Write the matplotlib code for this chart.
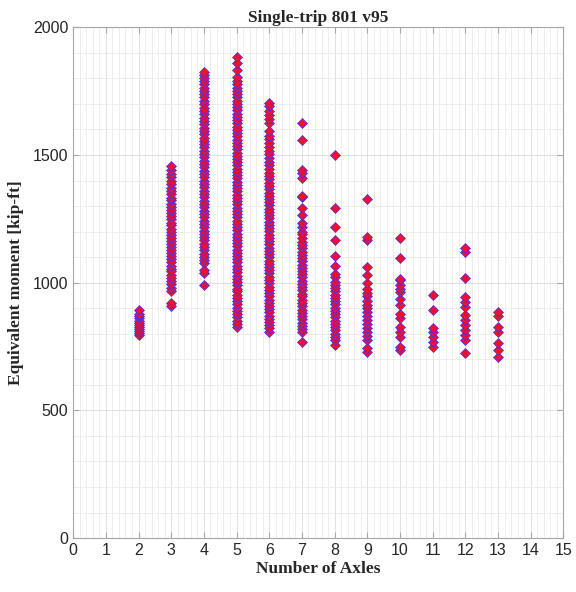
import matplotlib

matplotlib.use("Agg")

import matplotlib.pyplot as plt
from matplotlib.ticker import MultipleLocator

# Equivalent moment [kip-ft] per truck, grouped by number of axles
axles = [2, 3, 4, 5, 6, 7, 8, 9, 10, 11, 12, 13]

moment_2 = [795, 803, 811, 818, 826, 833, 842, 851, 860, 869, 879, 892]
moment_3 = [908, 919, 968, 981, 994, 1006, 1019, 1031, 1044, 1055, 1067, 1080, 1092, 1103,
            1115, 1128, 1139, 1151, 1163, 1176, 1187, 1199, 1212, 1224, 1235, 1248, 1260,
            1272, 1285, 1296, 1309, 1322, 1333, 1347, 1360, 1371, 1385, 1398, 1412, 1426,
            1440, 1455]
moment_4 = [990, 1036, 1050, 1076, 1088, 1101, 1114, 1127, 1139, 1152, 1166, 1178, 1191,
            1204, 1218, 1230, 1243, 1257, 1269, 1282, 1296, 1308, 1321, 1335, 1348, 1360,
            1373, 1387, 1400, 1412, 1425, 1439, 1452, 1464, 1477, 1491, 1503, 1516, 1530,
            1543, 1555, 1568, 1582, 1594, 1607, 1621, 1633, 1646, 1660, 1673, 1685, 1698,
            1712, 1725, 1737, 1750, 1764, 1777, 1789, 1802, 1814, 1825]
moment_5 = [826, 838, 851, 864, 876, 888, 901, 915, 927, 939, 952, 966, 977, 990, 1003,
            1016, 1028, 1040, 1053, 1067, 1079, 1091, 1104, 1118, 1129, 1142, 1155, 1168,
            1180, 1192, 1205, 1219, 1231, 1243, 1256, 1270, 1281, 1294, 1307, 1320, 1332,
            1344, 1357, 1371, 1383, 1395, 1408, 1422, 1433, 1446, 1459, 1472, 1484, 1496,
            1509, 1523, 1535, 1547, 1560, 1574, 1585, 1598, 1611, 1624, 1636, 1648, 1661,
            1675, 1687, 1699, 1712, 1726, 1737, 1750, 1763, 1778, 1790, 1805, 1833, 1860,
            1885]
moment_6 = [808, 821, 833, 847, 858, 871, 884, 897, 909, 921, 934, 948, 960, 972, 985, 999,
            1010, 1023, 1036, 1049, 1061, 1073, 1086, 1100, 1112, 1124, 1137, 1151, 1162,
            1175, 1188, 1201, 1213, 1225, 1238, 1252, 1264, 1276, 1289, 1303, 1314, 1327,
            1340, 1353, 1365, 1378, 1391, 1405, 1418, 1431, 1445, 1460, 1474, 1489, 1503,
            1517, 1532, 1546, 1561, 1576, 1595, 1625, 1640, 1655, 1672, 1690, 1705]
moment_7 = [767, 806, 818, 831, 844, 856, 868, 881, 895, 907, 919, 932, 946, 957, 970, 984,
            995, 1008, 1021, 1034, 1046, 1058, 1071, 1085, 1097, 1109, 1122, 1136, 1147,
            1160, 1173, 1190, 1198, 1218, 1232, 1265, 1292, 1335, 1339, 1408, 1428, 1440,
            1558, 1627]
moment_8 = [755, 775, 787, 800, 813, 825, 838, 850, 864, 876, 889, 901, 915, 927, 940, 952,
            966, 978, 990, 1004, 1023, 1033, 1065, 1105, 1166, 1219, 1293, 1499]
moment_9 = [730, 745, 775, 790, 806, 822, 837, 852, 868, 884, 899, 914, 930, 946, 961, 976,
            997, 1029, 1062, 1166, 1179, 1326]
moment_10 = [736, 749, 788, 807, 827, 860, 879, 912, 938, 964, 977, 990, 1010, 1016, 1097,
             1173]
moment_11 = [749, 768, 788, 807, 821, 892, 951]
moment_12 = [723, 775, 795, 814, 834, 853, 873, 903, 925, 942, 1019, 1121, 1134]
moment_13 = [710, 736, 762, 807, 827, 869, 886]

moments = [moment_2, moment_3, moment_4, moment_5, moment_6, moment_7, moment_8,
           moment_9, moment_10, moment_11, moment_12, moment_13]

x_ticks = list(range(0, 16))
y_ticks = [0, 500, 1000, 1500, 2000]

TEXT_GRAY = "#262626"
EDGE_GRAY = "#a6a6a6"

fig = plt.figure(figsize=(5.76, 5.92), dpi=100)
ax = fig.add_axes([0.127, 0.091, 0.851, 0.863])

for n, vals in zip(axles, moments):
    ax.plot([n] * len(vals), vals, linestyle="none", marker="D", markersize=4.8,
            markerfacecolor="#ee1034", markeredgecolor="#3a30f0", markeredgewidth=0.5)

ax.set_xlim(0, 15)
ax.set_ylim(0, 2000)
ax.set_xticks(x_ticks)
ax.set_yticks(y_ticks)
ax.xaxis.set_minor_locator(MultipleLocator(0.2))
ax.yaxis.set_minor_locator(MultipleLocator(100))

ax.grid(True, which="major", color="#dcdcdc", linewidth=0.6)
ax.grid(True, which="minor", color="#e8e8e8", linewidth=0.5)
ax.set_axisbelow(True)

ax.tick_params(which="major", direction="in", length=4, top=True, right=True,
               color=EDGE_GRAY, labelcolor=TEXT_GRAY, labelsize=11.5)
ax.tick_params(which="minor", length=0)
for lbl in ax.get_xticklabels() + ax.get_yticklabels():
    lbl.set_family("Liberation Sans")
for sp in ax.spines.values():
    sp.set_color(EDGE_GRAY)
    sp.set_linewidth(0.8)

serif = {"family": "Liberation Serif", "weight": "bold", "size": 12.5, "color": TEXT_GRAY}
ax.set_title("Single-trip 801 v95", fontdict=serif, pad=4)
ax.set_xlabel("Number of Axles", fontdict=serif, labelpad=2)
ax.set_ylabel("Equivalent moment [kip-ft]", fontdict=serif, labelpad=6)

fig.savefig("out.png", dpi=100)
